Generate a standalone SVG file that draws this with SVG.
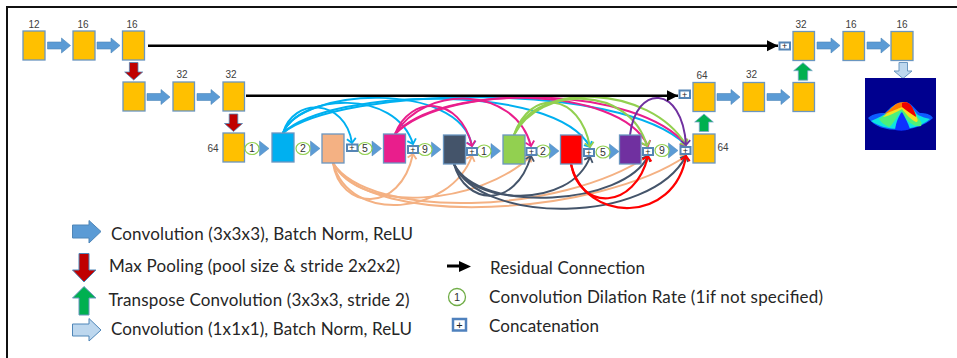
<svg xmlns="http://www.w3.org/2000/svg" xmlns:xlink="http://www.w3.org/1999/xlink" width="957" height="358" viewBox="0 0 957 358">
<style>
text{font-family:"Liberation Sans",Arial,sans-serif;fill:#404040}
.n{font-size:10px;text-anchor:middle}
.lg{font-family:Lato,"Open Sans",sans-serif;font-size:17px;fill:#262626}
.b{stroke:#6a96c0;stroke-width:1.3}
.o{fill:#ffc000}
.cb{fill:#fff;stroke:#5585b5;stroke-width:2}
.p{font-size:9px;text-anchor:middle;fill:#222}
.d{fill:#fff;stroke:#92d050;stroke-width:1.2}
.dn{font-size:10.5px;text-anchor:middle;fill:#333}
.c{fill:none}
.bl{stroke:#00b0f0;stroke-width:2;marker-end:url(#mb)}
.pk{stroke:#e91e8c;stroke-width:2;marker-end:url(#mp)}
.gr{stroke:#92d050;stroke-width:2.1;marker-end:url(#mg)}
.pu{stroke:#7030a0;stroke-width:2;marker-end:url(#mu)}
.pe{stroke:#f4b183;stroke-width:2;marker-end:url(#me)}
.da{stroke:#44546a;stroke-width:2;marker-end:url(#md)}
.re{stroke:#ff0000;stroke-width:2.2;marker-end:url(#mr)}
.k{stroke:#000;stroke-width:2.6;fill:none}
</style>
<defs>
<marker id="mb" markerUnits="userSpaceOnUse" markerWidth="12" markerHeight="12" refX="6" refY="6" orient="auto"><path d="M1.5 1.5L6 6L1.5 10.500" fill="none" stroke="#00b0f0" stroke-width="1.8"/></marker>
<marker id="mp" markerUnits="userSpaceOnUse" markerWidth="12" markerHeight="12" refX="6" refY="6" orient="auto"><path d="M1.5 1.5L6 6L1.5 10.500" fill="none" stroke="#e91e8c" stroke-width="1.8"/></marker>
<marker id="mg" markerUnits="userSpaceOnUse" markerWidth="12" markerHeight="12" refX="6" refY="6" orient="auto"><path d="M1.5 1.5L6 6L1.5 10.500" fill="none" stroke="#92d050" stroke-width="1.8"/></marker>
<marker id="mu" markerUnits="userSpaceOnUse" markerWidth="12" markerHeight="12" refX="6" refY="6" orient="auto"><path d="M1.5 1.5L6 6L1.5 10.500" fill="none" stroke="#7030a0" stroke-width="1.8"/></marker>
<marker id="me" markerUnits="userSpaceOnUse" markerWidth="12" markerHeight="12" refX="6" refY="6" orient="auto"><path d="M1.5 1.5L6 6L1.5 10.500" fill="none" stroke="#f4b183" stroke-width="1.8"/></marker>
<marker id="md" markerUnits="userSpaceOnUse" markerWidth="12" markerHeight="12" refX="6" refY="6" orient="auto"><path d="M1.5 1.5L6 6L1.5 10.500" fill="none" stroke="#44546a" stroke-width="1.8"/></marker>
<marker id="mr" markerUnits="userSpaceOnUse" markerWidth="12" markerHeight="12" refX="6" refY="6" orient="auto"><path d="M1.5 1.5L6 6L1.5 10.500" fill="none" stroke="#ff0000" stroke-width="2"/></marker>
<marker id="mk" markerUnits="userSpaceOnUse" markerWidth="13" markerHeight="12" refX="11" refY="6" orient="auto"><path d="M0 0.5L11 6L0 11.500Z" fill="#000"/></marker>
<path id="conv" d="M0-3.500H14V-7.500L23 0L14 7.500V3.500H0Z" fill="#5b9bd5" stroke="#4f86b8" stroke-width=".6"/>
<path id="pool" d="M-4.300 0H4.300V9.500H9L0 17.500L-9 9.500H-4.300Z" fill="#c00000" stroke="#4f86b8" stroke-width=".8"/>
<path id="up" d="M-4.700 17.500H4.700V8H9.300L0 0L-9.300 8H-4.700Z" fill="#00b050" stroke="#7aa5cc" stroke-width=".8"/>
<path id="tri" d="M0-7.500L9.500 0L0 7.500Z" fill="#5b9bd5" stroke="#4f86b8" stroke-width=".5"/>
<filter id="soft" x="-10%" y="-10%" width="120%" height="120%"><feGaussianBlur stdDeviation=".5"/></filter>
</defs>

<path d="M7 358V7H957" fill="none" stroke="#111" stroke-width="2"/>

<g id="connectors">
<g class="c">
<path class="bl" d="M283 133C293 97 345 98 352 143"/>
<path class="bl" d="M283 133C300 94 395 88 413 144"/>
<path class="bl" d="M283 133C300 88 460 80 472 146"/>
<path class="bl" d="M283 133C330 88 555 82 590 147"/>
<path class="bl" d="M283 133C340 87 620 80 686 145"/>
<path class="pk" d="M395 134C410 95 460 95 472 146"/>
<path class="pk" d="M395 134C425 84 515 86 531 146"/>
<path class="pk" d="M395 134C440 84 620 84 648 146"/>
<path class="pk" d="M395 134C450 80 640 87 686 145"/>
<path class="gr" d="M514 135C530 88 580 92 590 147"/>
<path class="gr" d="M514 135C540 85 630 85 647 146"/>
<path class="gr" d="M514 135C535 80 650 85 686 145"/>
<path class="pu" d="M630 135C636 84 682 84 686 145"/>
<path class="pe" d="M333 163C340 210 400 215 413 154"/>
<path class="pe" d="M333 163C350 225 450 215 472 156"/>
<path class="pe" d="M333 163C360 215 480 205 531 156"/>
<path class="pe" d="M333 163C370 220 560 215 648 156"/>
<path class="pe" d="M333 163C370 230 600 215 686 156"/>
<path class="da" d="M454 164C465 205 515 210 531 156"/>
<path class="da" d="M454 164C470 205 570 210 590 157"/>
<path class="da" d="M454 164C480 215 625 205 648 156"/>
<path class="da" d="M454 164C480 225 650 225 686 156"/>
<path class="re" d="M571 164C580 212 635 210 648 156"/>
<path class="re" d="M571 164C585 224 675 224 686 156"/>
</g>
<path class="k" d="M148 45.700H778" marker-end="url(#mk)"/>
<path class="k" d="M246 95.700H678" marker-end="url(#mk)"/>
<use href="#conv" x="47.500" y="45.500"/>
<use href="#conv" x="97" y="45.500"/>
<use href="#conv" x="147" y="97"/>
<use href="#conv" x="197" y="97"/>
<use href="#conv" x="717" y="97"/>
<use href="#conv" x="767" y="97"/>
<use href="#conv" x="817" y="45.500"/>
<use href="#conv" x="867" y="45.500"/>
<use href="#pool" x="133.700" y="62.500"/>
<use href="#pool" x="233.500" y="114"/>
<use href="#up" x="704" y="114"/>
<use href="#up" x="803" y="62.700"/>
<path d="M899 62.500H907.500V71H912L903 78.500L894 71H899Z" fill="#bdd7ee" stroke="#6a96c0"/>
<use href="#tri" x="259.500" y="148.500"/>
<use href="#tri" x="310.500" y="148.500"/>
<use href="#tri" x="372" y="148.500"/>
<use href="#tri" x="431.500" y="149.500"/>
<use href="#tri" x="491" y="151"/>
<use href="#tri" x="549.500" y="151"/>
<use href="#tri" x="609.500" y="151.500"/>
<use href="#tri" x="668.500" y="150.500"/>
</g>

<g id="n1"><rect class="o b" x="23" y="31" width="22" height="29"/><text class="n" x="34" y="27.500">12</text></g>
<g id="n2"><rect class="o b" x="73" y="31" width="22" height="29"/><text class="n" x="83" y="28">16</text></g>
<g id="n3"><rect class="o b" x="122.500" y="31" width="22" height="29"/><text class="n" x="132" y="28">16</text></g>
<g id="n4"><rect class="o b" x="123" y="82" width="22" height="29"/></g>
<g id="n5"><rect class="o b" x="173" y="82" width="21.500" height="29"/><text class="n" x="182" y="78">32</text></g>
<g id="n6"><rect class="o b" x="223" y="82" width="21.500" height="29"/><text class="n" x="231" y="78">32</text></g>
<g id="n7"><rect class="o b" x="223" y="133" width="21.500" height="29"/><text class="n" x="213" y="152">64</text></g>
<g id="n8"><rect class="b" fill="#00b0f0" x="272" y="133" width="22" height="29"/></g>
<g id="n9"><rect class="b" fill="#f4b183" x="322" y="134" width="22" height="29"/></g>
<g id="n10"><rect class="b" fill="#e91e8c" x="383.500" y="134" width="22" height="29"/></g>
<g id="n11"><rect class="b" fill="#44546a" x="443.500" y="135" width="22" height="29"/></g>
<g id="n12"><rect class="b" fill="#92d050" x="503" y="135" width="22" height="29"/></g>
<g id="n13"><rect class="b" fill="#ff0000" x="560.500" y="135" width="21.500" height="29"/></g>
<g id="n14"><rect class="b" fill="#7030a0" x="619.500" y="135" width="21.500" height="29"/></g>
<g id="n15"><rect class="o b" x="693" y="134" width="22" height="29"/><text class="n" x="723" y="151">64</text></g>
<g id="n16"><rect class="o b" x="693" y="82.500" width="22" height="29"/><text class="n" x="702" y="79">64</text></g>
<g id="n17"><rect class="o b" x="743" y="82.500" width="21.500" height="29"/><text class="n" x="751.500" y="78">32</text></g>
<g id="n18"><rect class="o b" x="793" y="82.500" width="21.500" height="29"/></g>
<g id="n19"><rect class="o b" x="793" y="31.500" width="21.500" height="29"/><text class="n" x="801" y="27.500">32</text></g>
<g id="n20"><rect class="o b" x="843" y="31.500" width="21.500" height="29"/><text class="n" x="851" y="28">16</text></g>
<g id="n21"><rect class="o b" x="891" y="31.500" width="22" height="29"/><text class="n" x="902" y="28">16</text></g>

<g id="dil1"><ellipse class="d" cx="252" cy="148.500" rx="7" ry="6"/><text class="dn" x="252" y="152.300">1</text></g>
<g id="dil2"><ellipse class="d" cx="303" cy="148.500" rx="7" ry="6"/><text class="dn" x="303" y="152.300">2</text></g>
<g id="dil3"><ellipse class="d" cx="365" cy="148.500" rx="7" ry="6"/><text class="dn" x="365" y="152.300">5</text></g>
<g id="dil4"><ellipse class="d" cx="425" cy="149.500" rx="7" ry="6"/><text class="dn" x="425" y="153.300">9</text></g>
<g id="dil5"><ellipse class="d" cx="484" cy="151" rx="7" ry="6"/><text class="dn" x="484" y="154.800">1</text></g>
<g id="dil6"><ellipse class="d" cx="543" cy="151" rx="7" ry="6"/><text class="dn" x="543" y="154.800">2</text></g>
<g id="dil7"><ellipse class="d" cx="603" cy="152" rx="7" ry="6"/><text class="dn" x="603" y="155.800">5</text></g>
<g id="dil8"><ellipse class="d" cx="662" cy="150.500" rx="7" ry="6"/><text class="dn" x="662" y="154.300">9</text></g>

<g id="cat1"><rect class="cb" x="347" y="144.500" width="10.500" height="6.500"/><text class="p" x="352" y="151">+</text></g>
<g id="cat2"><rect class="cb" x="408" y="146" width="10" height="7"/><text class="p" x="413" y="152.500">+</text></g>
<g id="cat3"><rect class="cb" x="467" y="148" width="10" height="7"/><text class="p" x="472" y="154.500">+</text></g>
<g id="cat4"><rect class="cb" x="526.500" y="148" width="10" height="7"/><text class="p" x="531.500" y="154.500">+</text></g>
<g id="cat5"><rect class="cb" x="584" y="149" width="10" height="7"/><text class="p" x="589" y="155.500">+</text></g>
<g id="cat6"><rect class="cb" x="643" y="148" width="10" height="7"/><text class="p" x="648" y="154.500">+</text></g>
<g id="cat7"><rect class="cb" x="680.500" y="147" width="10" height="7"/><text class="p" x="685.500" y="153.500">+</text></g>
<g id="cat8"><rect class="cb" x="679.500" y="90.500" width="10.500" height="7.500"/><text class="p" x="684.700" y="97.500">+</text></g>
<g id="cat9"><rect class="cb" x="779.500" y="42.500" width="10.500" height="7"/><text class="p" x="784.700" y="49">+</text></g>

<g id="output">
<rect x="865" y="78" width="71" height="72" fill="#00008f"/>
<g filter="url(#soft)">
<path d="M868 118C874 113 880 113 885 113C890 108 895 102 904 102C912 102 915 110 920 113C925 113 931 114 933 118C925 126 910 130 900 130C885 130 875 127 868 118Z" fill="#0a5cff"/>
<path d="M871 121C878 118 884 115 888 112C892 107 898 104 904 103C911 104 914 111 918 115C922 117 926 118 930 119C922 126 910 129 900 129C888 129 878 126 871 121Z" fill="#10e4e0"/>
<path d="M879 119C884 116 888 112 891 108C896 104 900 103 905 103C911 105 914 112 917 116C920 120 923 123 921 126C913 128 906 120 901 111C896 118 892 126 889 127C884 125 881 122 879 119Z" fill="#4ef07a"/>
<path d="M883 117C888 113 891 108 895 105C899 103 903 103 906 103C911 105 914 112 917 118C918 120 918 122 916 122C911 120 906 114 902 109C896 112 890 116 883 117Z" fill="#f6e020"/>
<path d="M884 114C889 111 892 107 896 104C900 102 903 102 906 102C911 104 914 110 916 116C912 115 907 110 903 107C898 108 891 112 884 114Z" fill="#ff7a00"/>
<path d="M902 103C906 101 910 103 912 107C914 111 916 114 916 117C911 114 906 110 902 107Z" fill="#ee0000"/>
<path d="M895 130C896 122 899 115 902 112C905 117 908 123 910 129C905 131 900 131 895 130Z" fill="#0a30ff"/>
</g>
</g>

<g id="legend">
<path d="M72.500 225H89V220.500L101 231.500L89 243V238H72.500Z" fill="#5b9bd5" stroke="#4f86b8"/>
<text class="lg" x="111" y="239.500" textLength="302">Convolution (3x3x3), Batch Norm, ReLU</text>
<path d="M79 253.500H89V270H96L84 282L72.500 270H79Z" fill="#c00000" stroke="#4f86b8"/>
<text class="lg" x="109" y="272" textLength="291">Max Pooling (pool size &amp; stride 2x2x2)</text>
<path d="M79 315H89V298H96L84 286.500L72.500 298H79Z" fill="#00b050" stroke="#6a96c0"/>
<text class="lg" x="108.500" y="306" textLength="301">Transpose Convolution (3x3x3, stride 2)</text>
<path d="M72.500 324H89V318.500L101 330L89 341V336H72.500Z" fill="#bdd7ee" stroke="#4f86b8"/>
<text class="lg" x="111" y="335" textLength="301">Convolution (1x1x1), Batch Norm, ReLU</text>
<path d="M447 266H461" stroke="#000" stroke-width="3"/>
<path d="M459 261L471 266.500L459 272Z" fill="#000"/>
<text class="lg" x="490" y="274" textLength="155">Residual Connection</text>
<circle cx="457" cy="297" r="8.500" fill="#fff" stroke="#70ad47" stroke-width="1.300"/>
<text class="dn" x="457" y="301" style="font-size:11px">1</text>
<text class="lg" x="489" y="303" textLength="334">Convolution Dilation Rate (1if not specified)</text>
<rect x="453" y="319" width="13" height="11.500" fill="#fff" stroke="#4f81bd" stroke-width="2.500"/>
<text class="p" x="459.500" y="328.500" style="font-size:11px">+</text>
<text class="lg" x="489" y="332" textLength="110">Concatenation</text>
</g>
</svg>
